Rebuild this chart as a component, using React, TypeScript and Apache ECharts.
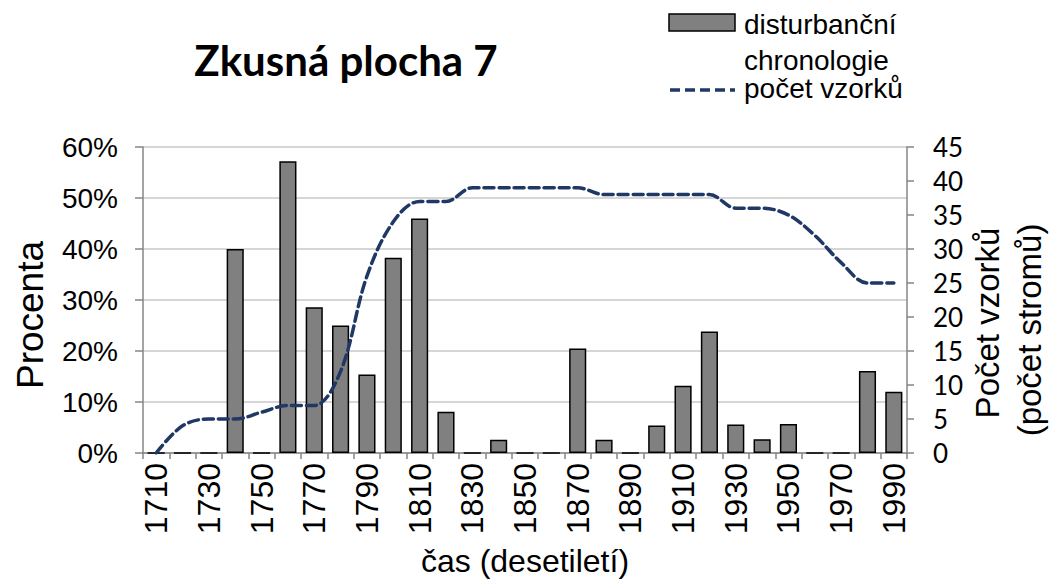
import React, { useEffect, useRef } from "react";
import * as echarts from "echarts";

const decades: string[] = [
  "1710", "1720", "1730", "1740", "1750", "1760", "1770", "1780", "1790", "1800",
  "1810", "1820", "1830", "1840", "1850", "1860", "1870", "1880", "1890", "1900",
  "1910", "1920", "1930", "1940", "1950", "1960", "1970", "1980", "1990",
];

// disturbanční chronologie (%)
const disturbance: (number | null)[] = [
  0, 0, 0, 40, 0, 57.2, 28.6, 25, 15.4, 38.3,
  46, 8.1, 0, 2.6, 0, 0, 20.5, 2.6, 0, 5.4,
  13.2, 23.8, 5.6, 2.7, 5.7, 0, 0, 16.1, 12,
];

// počet vzorků
const sampleCount: number[] = [
  0, 4, 5, 5, 6, 7, 7, 12, 26, 34,
  37, 37, 39, 39, 39, 39, 39, 38, 38, 38,
  38, 38, 36, 36, 35, 32, 28, 25, 25,
];

const leftTicks = { min: 0, max: 60, interval: 10 };
const rightTicks = { min: 0, max: 45, interval: 5 };

const NAVY = "#1f3864";
const AXIS = "#868686";
const ARIAL = "'Liberation Sans', Arial, sans-serif";
const CALIBRI = "Lato, 'Open Sans', sans-serif";

export default function App() {
  const ref = useRef<HTMLDivElement>(null);

  useEffect(() => {
    if (!ref.current) return;
    const chart = echarts.init(ref.current, undefined, { renderer: "svg" });
    chart.setOption({
      animation: false,
      backgroundColor: "#ffffff",
      grid: { left: 143, right: 144, top: 147, bottom: 133, containLabel: false, outerBoundsMode: "none" },
      title: {
        text: "Zkusná plocha 7",
        left: 341,
        top: 34,
        textAlign: "center",
        textStyle: { fontFamily: CALIBRI, fontWeight: "bold", fontSize: 42, color: "#000" },
      },
      xAxis: {
        type: "category",
        data: decades,
        boundaryGap: true,
        name: "čas (desetiletí)",
        nameLocation: "middle",
        nameGap: 92,
        nameTextStyle: { fontFamily: ARIAL, fontSize: 32, color: "#000", verticalAlign: "top" },
        axisLine: { lineStyle: { color: AXIS, width: 1.5 } },
        axisTick: { show: true, interval: 0, alignWithLabel: false, length: 6, lineStyle: { color: AXIS, width: 1.5 } },
        axisLabel: {
          interval: 1,
          rotate: 90,
          margin: 10,
          fontFamily: ARIAL,
          fontSize: 32,
          color: "#000",
        },
        splitLine: { show: false },
      },
      yAxis: [
        {
          type: "value",
          ...leftTicks,
          position: "left",
          name: "Procenta",
          nameLocation: "middle",
          nameGap: 94,
          nameRotate: 90,
          nameTextStyle: { fontFamily: ARIAL, fontSize: 37, color: "#000", padding: [0, 0, 0, -30] },
          axisLine: { show: true, lineStyle: { color: AXIS, width: 1.5 } },
          axisTick: { show: true, length: 8, lineStyle: { color: AXIS, width: 1.5 } },
          axisLabel: { formatter: "{value}%", fontFamily: ARIAL, fontSize: 28, color: "#000", margin: 25 },
          splitLine: { show: true, lineStyle: { color: "#c8c8c8", width: 1.5 } },
        },
        {
          type: "value",
          ...rightTicks,
          position: "right",
          axisLine: { show: true, lineStyle: { color: AXIS, width: 1.5 } },
          axisTick: { show: true, length: 7, lineStyle: { color: AXIS, width: 1.5 } },
          axisLabel: { fontFamily: CALIBRI, fontSize: 26, color: "#000", margin: 26 },
          splitLine: { show: false },
        },
      ],
      series: [
        {
          name: "disturbanční chronologie",
          type: "bar",
          yAxisIndex: 0,
          data: disturbance,
          barWidth: "65%",
          itemStyle: { color: "#808080", borderColor: "#000", borderWidth: 1.5 },
        },
        {
          name: "počet vzorků",
          type: "line",
          yAxisIndex: 1,
          data: sampleCount,
          smooth: 0.35,
          symbol: "none",
          lineStyle: { color: NAVY, width: 3.5, type: [10, 5], cap: "round" },
          z: 5,
        },
      ],
      graphic: [
        {
          type: "text",
          x: 987,
          y: 323,
          rotation: Math.PI / 2,
          style: {
            text: "Počet vzorků",
            fontFamily: ARIAL,
            fontSize: 33,
            fill: "#000",
            align: "center",
            verticalAlign: "middle",
          },
        },
        {
          type: "text",
          x: 1029,
          y: 330,
          rotation: Math.PI / 2,
          style: {
            text: "(počet stromů)",
            fontFamily: ARIAL,
            fontSize: 33,
            fill: "#000",
            align: "center",
            verticalAlign: "middle",
          },
        },
        {
          type: "rect",
          shape: { x: 669, y: 14, width: 66, height: 17 },
          style: { fill: "#808080", stroke: "#000", lineWidth: 1.5 },
        },
        {
          type: "text",
          x: 744,
          y: 10,
          style: { text: "disturbanční", fontFamily: ARIAL, fontSize: 28, fill: "#000" },
        },
        {
          type: "text",
          x: 744,
          y: 46,
          style: { text: "chronologie", fontFamily: ARIAL, fontSize: 28, fill: "#000" },
        },
        {
          type: "line",
          shape: { x1: 670, y1: 90, x2: 735, y2: 90 },
          style: { stroke: NAVY, lineWidth: 3.5, lineDash: [10, 5] },
        },
        {
          type: "text",
          x: 744,
          y: 74,
          style: { text: "počet vzorků", fontFamily: ARIAL, fontSize: 28, fill: "#000" },
        },
      ],
    });
    return () => chart.dispose();
  }, []);

  return (
    <div
      ref={ref}
      style={{ position: "fixed", left: 0, top: 0, width: 1051, height: 586, background: "#fff" }}
    />
  );
}
